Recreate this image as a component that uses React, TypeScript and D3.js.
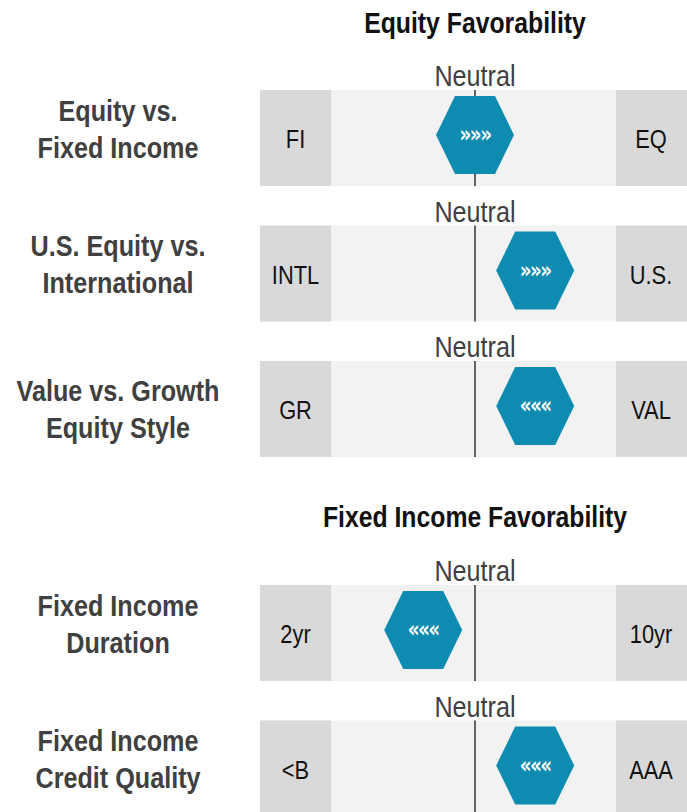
import React, { useEffect, useRef } from "react";
import * as d3 from "d3";

// rows of the favorability chart
const sections = ["Equity Favorability", "Fixed Income Favorability"];
const rowSection = [0, 0, 0, 1, 1];
const rowLabels = [
  ["Equity vs.", "Fixed Income"],
  ["U.S. Equity vs.", "International"],
  ["Value vs. Growth", "Equity Style"],
  ["Fixed Income", "Duration"],
  ["Fixed Income", "Credit Quality"],
];
const leftEnds = ["FI", "INTL", "GR", "2yr", "<B"];
const rightEnds = ["EQ", "U.S.", "VAL", "10yr", "AAA"];
// position relative to neutral (-100 = fully left, 100 = fully right)
const positions = [0, 43, 43, -37, 43];
const arrows = ["»»»", "»»»", "«««", "«««", "«««"];

const FONT = "'Liberation Sans', Arial, sans-serif";
const NARROW = 0.84; // the original uses a condensed face

const App = () => {
  const svgRef = useRef<SVGSVGElement | null>(null);

  useEffect(() => {
    const width = 687;
    const height = 812;
    const svg = d3.select(svgRef.current).attr("width", width).attr("height", height);
    svg.selectAll("*").remove();

    const barX0 = 260;
    const barX1 = 700;
    const endW = 71;
    const barH = 96;

    const x = d3.scaleLinear().domain([-100, 100]).range([335, 615]);

    // row tops: each section stacks rows at a fixed step
    const sectionTop = [90, 585];
    const step = 135.5;
    const rowTop = (i: number) => {
      const s = rowSection[i];
      const idx = rowSection.slice(0, i).filter((d) => d === s).length;
      return sectionTop[s] + idx * step;
    };

    const narrowText = (
      parent: d3.Selection<any, unknown, null, undefined>,
      tx: number,
      ty: number,
      txt: string,
      size: number,
      weight: string,
      fill: string
    ) =>
      parent.append("text")
        .attr("transform", `translate(${tx},${ty}) scale(${NARROW},1)`)
        .attr("text-anchor", "middle")
        .attr("font-family", FONT)
        .attr("font-weight", weight)
        .attr("font-size", size)
        .attr("fill", fill)
        .text(txt);

    // section titles
    const titleY = [33, 527];
    sections.forEach((t, s) => {
      narrowText(svg, 475, titleY[s], t, 29.5, "bold", "#111");
    });

    const hex = d3.line()([
      [-39, 0], [-20, -39], [20, -39], [39, 0], [20, 39], [-20, 39], [-39, 0],
    ]);

    // small vertical nudges for the row labels (layout only)
    const labelNudge = [0, 0, 9, 0, 0];

    rowLabels.forEach((lines, i) => {
      const top = rowTop(i);
      const cy = top + barH / 2;
      const g = svg.append("g");

      // background bands
      g.append("rect").attr("x", barX0).attr("y", top).attr("width", barX1 - barX0).attr("height", barH).attr("fill", "#f2f2f2");
      g.append("rect").attr("x", barX0).attr("y", top).attr("width", endW).attr("height", barH).attr("fill", "#d9d9d9");
      g.append("rect").attr("x", 616).attr("y", top).attr("width", barX1 - 616).attr("height", barH).attr("fill", "#d9d9d9");

      // neutral line + label
      g.append("line")
        .attr("x1", x(0)).attr("x2", x(0))
        .attr("y1", top).attr("y2", top + barH)
        .attr("stroke", "#333").attr("stroke-width", 1.5);
      narrowText(g, x(0), top - 4, "Neutral", 30, "normal", "#404040");

      // end labels
      narrowText(g, barX0 + endW / 2, cy + 10, leftEnds[i], 26, "normal", "#111");
      narrowText(g, 651, cy + 10, rightEnds[i], 26, "normal", "#111");

      // hexagon marker
      const hx = x(positions[i]);
      const hy = cy - 3;
      g.append("path")
        .attr("d", hex)
        .attr("transform", `translate(${hx},${hy})`)
        .attr("fill", "#0e8bb0");
      g.append("text")
        .attr("transform", `translate(${hx},${hy + 7}) scale(0.8,1)`)
        .attr("text-anchor", "middle")
        .attr("font-family", "'DejaVu Sans', sans-serif")
        .attr("font-weight", "bold")
        .attr("font-size", 23)
        .attr("letter-spacing", -2)
        .attr("fill", "#fff")
        .text(arrows[i]);

      // row label (two lines)
      lines.forEach((l, j) => {
        narrowText(g, 118, cy + 1 + labelNudge[i] + (j - 0.5) * 37, l, 30, "bold", "#404040");
      });
    });
  }, []);

  return (
    <svg ref={svgRef} style={{ position: "absolute", left: 0, top: 0, display: "block" }}></svg>
  );
};

export default App;
